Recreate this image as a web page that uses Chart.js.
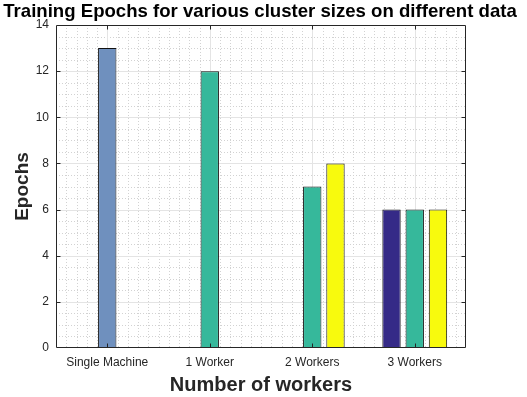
<!DOCTYPE html>
<html>
<head>
<meta charset="utf-8">
<script src="https://cdn.jsdelivr.net/npm/chart.js@4.4.1/dist/chart.umd.min.js"></script>
<style>
  html, body { margin: 0; padding: 0; background: #ffffff; }
  #wrap { width: 527px; height: 397px; }
</style>
</head>
<body>
<div id="wrap"><canvas id="c" width="527" height="397"></canvas></div>
<script>
// Cluster configurations on the x axis
const categories = ['Single Machine', '1 Worker', '2 Workers', '3 Workers'];

// Training epochs per run (three bars per group)
const runA = [0, 0, 0, 6];
const runB = [13, 12, 7, 6];
const runC = [0, 0, 8, 6];

// Y axis range and tick step
const yMin = 0;
const yMax = 14;
const yStep = 2;

const NAVY = '#352a87';
const TEAL = '#36b89b';
const SKY = '#6f90be';
const YELLOW = '#f8fa0d';
const AXIS = '#262626';
const FONT = 'Liberation Sans, Arial, sans-serif';

// Grid behind the bars: dotted minor lines plus solid major lines
const gridPlugin = {
  id: 'matGrid',
  beforeDatasetsDraw(chart) {
    const { ctx, chartArea: a, scales } = chart;
    const x = scales.x, y = scales.y;
    const c0 = x.getPixelForTick(0), c1 = x.getPixelForTick(1);
    const unit = c1 - c0;
    ctx.save();
    ctx.lineWidth = 1;
    // minor dotted
    ctx.strokeStyle = '#d2d2d2';
    ctx.setLineDash([1, 2]);
    ctx.beginPath();
    for (let k = -5; k <= (categories.length - 1) * 10 + 5; k++) {
      if (k % 10 === 0) continue;
      const px = Math.round(c0 + unit * k / 10) + 0.5;
      if (px <= a.left + 1 || px >= a.right - 1) continue;
      ctx.moveTo(px, a.top);
      ctx.lineTo(px, a.bottom);
    }
    for (let v = yMin; v <= yMax; v += 0.5) {
      if (v % yStep === 0) continue;
      const py = Math.round(y.getPixelForValue(v)) + 0.5;
      ctx.moveTo(a.left, py);
      ctx.lineTo(a.right, py);
    }
    ctx.stroke();
    // major solid
    ctx.setLineDash([]);
    ctx.strokeStyle = '#e4e4e4';
    ctx.beginPath();
    categories.forEach((_, i) => {
      const px = Math.round(x.getPixelForTick(i)) + 0.5;
      ctx.moveTo(px, a.top);
      ctx.lineTo(px, a.bottom);
    });
    for (let v = yMin + yStep; v < yMax; v += yStep) {
      const py = Math.round(y.getPixelForValue(v)) + 0.5;
      ctx.moveTo(a.left, py);
      ctx.lineTo(a.right, py);
    }
    ctx.stroke();
    ctx.restore();
  },
  afterDatasetsDraw(chart) {
    // Box around the axes with inward tick marks on all four sides
    const { ctx, chartArea: a, scales } = chart;
    const x = scales.x, y = scales.y;
    const L = Math.round(a.left) + 0.5, R = Math.round(a.right) - 0.5;
    const T = Math.round(a.top) + 0.5, B = Math.round(a.bottom) - 0.5;
    const tl = 4;
    ctx.save();
    ctx.strokeStyle = AXIS;
    ctx.lineWidth = 1;
    ctx.beginPath();
    ctx.rect(L, T, R - L, B - T);
    categories.forEach((_, i) => {
      const px = Math.round(x.getPixelForTick(i)) + 0.5;
      ctx.moveTo(px, B); ctx.lineTo(px, B - tl);
      ctx.moveTo(px, T); ctx.lineTo(px, T + tl);
    });
    for (let v = yMin + yStep; v < yMax; v += yStep) {
      const py = Math.round(y.getPixelForValue(v)) + 0.5;
      ctx.moveTo(L, py); ctx.lineTo(L + tl, py);
      ctx.moveTo(R, py); ctx.lineTo(R - tl, py);
    }
    ctx.stroke();
    ctx.restore();
  }
};

const barStyle = {
  borderColor: '#111111',
  borderWidth: 1,
  borderSkipped: false,
  categoryPercentage: 0.68,
  barPercentage: 0.79
};

new Chart(document.getElementById('c'), {
  type: 'bar',
  data: {
    labels: categories,
    datasets: [
      Object.assign({ label: 'Run A', data: runA, backgroundColor: NAVY }, barStyle),
      Object.assign({ label: 'Run B', data: runB, backgroundColor: [SKY, TEAL, TEAL, TEAL] }, barStyle),
      Object.assign({ label: 'Run C', data: runC, backgroundColor: YELLOW }, barStyle)
    ]
  },
  options: {
    responsive: false,
    animation: false,
    devicePixelRatio: 1,
    layout: { padding: { left: 0, right: 7, top: 0, bottom: 0 } },
    plugins: {
      legend: { display: false },
      tooltip: { enabled: false },
      title: {
        display: true,
        text: 'Training Epochs for various cluster sizes on different data',
        color: '#000000',
        font: { family: FONT, size: 18.6, weight: 'bold', lineHeight: 1.2 },
        padding: { top: 0.5, bottom: 2.2 }
      }
    },
    scales: {
      x: {
        grid: { display: false, drawTicks: false },
        border: { display: false },
        ticks: {
          color: AXIS,
          padding: 7,
          font: { family: FONT, size: 12, lineHeight: 1.2 }
        },
        title: {
          display: true,
          text: 'Number of workers',
          color: AXIS,
          font: { family: FONT, size: 20, weight: 'bold', lineHeight: 1.2 },
          padding: { top: 0, bottom: 0 }
        },
        afterFit(s) { s.height = 49; }
      },
      y: {
        min: yMin,
        max: yMax,
        grid: { display: false, drawTicks: false },
        border: { display: false },
        ticks: {
          stepSize: yStep,
          color: AXIS,
          padding: 7,
          font: { family: FONT, size: 12, lineHeight: 1.2 }
        },
        title: {
          display: true,
          text: 'Epochs',
          color: AXIS,
          font: { family: FONT, size: 19, weight: 'bold', lineHeight: 1.2 },
          padding: { top: 11, bottom: 0 }
        },
        afterFit(s) { s.width = 56; }
      },
      // empty strip on the right that keeps the plot box clear of the edge
      yPad: {
        position: 'right',
        display: true,
        grid: { display: false, drawTicks: false },
        border: { display: false },
        ticks: { display: false },
        afterFit(s) { s.width = 54; }
      }
    }
  },
  plugins: [gridPlugin]
});
</script>
</body>
</html>
